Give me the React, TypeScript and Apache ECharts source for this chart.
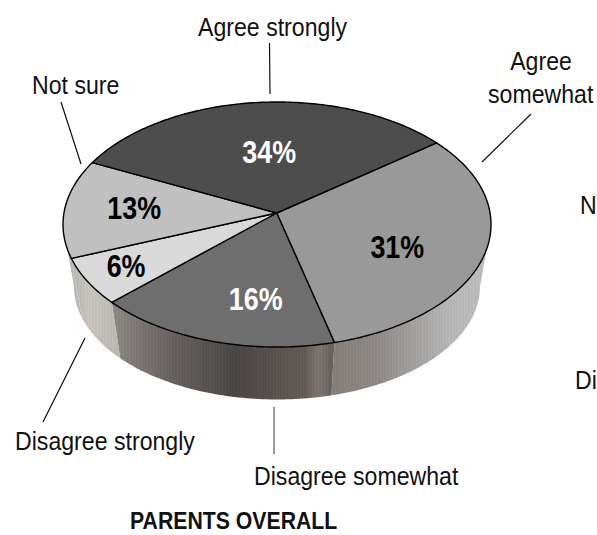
import React, { useEffect, useRef } from "react";
import * as echarts from "echarts";

// ---- data
const categories = ["Agree somewhat", "Disagree somewhat", "Disagree strongly", "Not sure", "Agree strongly"];
const percents = [31, 16, 6, 13, 34];
const titleText = "PARENTS OVERALL";

// ---- styles
const topColors = ["#999999", "#6e6e6e", "#d9d9d9", "#c0c0c0", "#4d4d4d"];
const labelColors = ["#000000", "#ffffff", "#000000", "#000000", "#ffffff"];
const wallStops: [number, string][][] = [
  [[325, "#827c78"], [380, "#8f8a87"], [420, "#a5a3a1"], [450, "#b6b6b6"], [490, "#bbbbbb"]],
  [[113, "#8c8884"], [140, "#7a7572"], [180, "#625d5a"], [210, "#565250"], [235, "#4a4644"], [280, "#5a5350"], [305, "#625a56"], [318, "#7a7571"], [330, "#6a6561"]],
  [[72, "#b8b4b0"], [90, "#c6c2be"], [122, "#b8b4b0"]],
  [[60, "#b5b2b0"], [85, "#bdb9b6"]],
];
// label placement on the disc: radial fraction and angular nudge
const labelRadius = [0.63, 0.7, 0.81, 0.674, 0.487];
const labelNudge = [10, -8, 0, 0, 1.5];

// ---- geometry of the tilted disc
const START_ANGLE = 55;
const PERSPECTIVE = -0.15;
const CX = 277, CY = 224.5, RX = 214, RY = 122.5;
const BCY = 286.5, BRX = 203, BRY = 113;
const HUB: [number, number] = [276.7, 213];
const rad = (d: number) => (d * Math.PI) / 180;

function project(angle: number, r = 1): [number, number] {
  const x = r * Math.sin(rad(angle));
  const y = -r * Math.cos(rad(angle));
  const d = 1 + PERSPECTIVE * y;
  return [(x * Math.sqrt(1 - PERSPECTIVE * PERSPECTIVE)) / d, (y + PERSPECTIVE) / d];
}
const topPoint = (a: number): [number, number] => {
  const [x, y] = project(a);
  return [CX + RX * x, CY + RY * y];
};
const bottomPoint = (a: number): [number, number] => {
  const [x, y] = project(a);
  return [CX + BRX * x, BCY + BRY * y];
};

const total = percents.reduce((s, v) => s + v, 0);
function sliceRange(i: number): [number, number] {
  let acc = 0;
  for (let k = 0; k < i; k++) acc += percents[k];
  return [START_ANGLE + (acc / total) * 360, START_ANGLE + ((acc + percents[i]) / total) * 360];
}
function arc(a0: number, a1: number, fn: (a: number) => [number, number]) {
  const pts: [number, number][] = [];
  const n = Math.max(2, Math.ceil(Math.abs(a1 - a0)));
  for (let k = 0; k <= n; k++) pts.push(fn(a0 + ((a1 - a0) * k) / n));
  return pts;
}

const hex = (c: string) => [1, 3, 5].map((i) => parseInt(c.slice(i, i + 2), 16));
function wallGradient(stops: [number, string][]) {
  const x0 = stops[0][0];
  const x1 = stops[stops.length - 1][0];
  const colorStops: { offset: number; color: string }[] = [];
  let odd = false;
  for (let x = x0; x < x1; x += 1.5) {
    let j = 0;
    while (j < stops.length - 2 && x > stops[j + 1][0]) j++;
    const t = (x - stops[j][0]) / (stops[j + 1][0] - stops[j][0]);
    const a = hex(stops[j][1]);
    const b = hex(stops[j + 1][1]);
    const d = odd ? 4 : -4;
    const c = a.map((v, k) => Math.round(v + (b[k] - v) * Math.min(1, t) + d));
    colorStops.push({ offset: (x - x0) / (x1 - x0), color: `rgb(${c[0]},${c[1]},${c[2]})` });
    odd = !odd;
  }
  return new echarts.graphic.LinearGradient(x0, 0, x1, 0, colorStops, true);
}

const VISIBLE_FROM = 98.63;
const VISIBLE_TO = 261.37;

function renderWall(params: any) {
  const i = params.dataIndex;
  if (i >= wallStops.length) return { type: "group", children: [] };
  const [a0, a1] = sliceRange(i);
  const s = Math.max(a0, VISIBLE_FROM);
  const e = Math.min(a1, VISIBLE_TO);
  const points = [...arc(s, e, topPoint), ...arc(e, s, bottomPoint)];
  return { type: "polygon", shape: { points }, style: { fill: wallGradient(wallStops[i]) }, silent: true };
}

function renderTop(params: any) {
  const i = params.dataIndex;
  const [a0, a1] = sliceRange(i);
  const points = [HUB, ...arc(a0, a1, topPoint)];
  const [lx, ly] = project((a0 + a1) / 2 + labelNudge[i], labelRadius[i]);
  return {
    type: "group",
    silent: true,
    children: [
      {
        type: "polygon",
        shape: { points },
        style: { fill: topColors[i], stroke: "#000000", lineWidth: 1.4, lineJoin: "round" },
      },
      {
        type: "text",
        z2: 10,
        x: CX + RX * lx,
        y: CY + RY * ly,
        scaleX: 0.84,
        style: {
          text: `${percents[i]}%`,
          x: 0,
          y: 0,
          fill: labelColors[i],
          font: 'bold 32px "Liberation Sans", sans-serif',
          align: "center",
          verticalAlign: "middle",
        },
      },
    ],
  };
}

const LABEL_FONT = '25px "Liberation Sans", Arial, sans-serif';
const outerText = (text: string, x: number, y: number, align = "left") => ({
  type: "text",
  silent: true,
  x,
  y,
  scaleX: 0.925,
  style: { text, x: 0, y: 0, fill: "#111111", font: LABEL_FONT, align, verticalAlign: "bottom" },
});
const leader = (x1: number, y1: number, x2: number, y2: number, stroke = "#111111") => ({
  type: "line",
  silent: true,
  shape: { x1, y1, x2, y2 },
  style: { stroke, lineWidth: 1.2 },
});

export default function App() {
  const ref = useRef<HTMLDivElement>(null);
  useEffect(() => {
    document.body.style.margin = "0";
    const chart = echarts.init(ref.current!, undefined, { renderer: "svg" });
    chart.setOption({
      animation: false,
      backgroundColor: "#ffffff",
      series: [
        {
          type: "custom",
          coordinateSystem: "none",
          renderItem: (params: any) => renderWall(params),
          data: percents,
          z: 1,
          silent: true,
        },
        {
          type: "custom",
          coordinateSystem: "none",
          renderItem: (params: any) => renderTop(params),
          data: percents,
          z: 2,
          silent: true,
        },
      ],
      graphic: [
        outerText(categories[4], 198, 40),
        outerText(categories[3], 32, 98),
        outerText("Agree", 541, 74, "center"),
        outerText("somewhat", 488, 107),
        outerText(categories[2], 15, 454),
        outerText(categories[1], 254, 489),
        outerText("N", 580, 218),
        outerText("Di", 575, 393),
        leader(269.5, 43, 270, 94),
        leader(61, 102, 81, 164),
        leader(531, 114, 482, 162),
        leader(85, 338, 43, 422),
        leader(274, 407, 274, 454, "#555555"),
        {
          type: "text",
          silent: true,
          x: 130,
          y: 531,
          scaleX: 0.885,
          style: {
            text: titleText,
            x: 0,
            y: 0,
            fill: "#111111",
            font: 'bold 24px "Liberation Sans", sans-serif',
            lineHeight: 20,
            align: "left",
            verticalAlign: "bottom",
          },
        },
      ],
    });
    return () => chart.dispose();
  }, []);
  return <div ref={ref} style={{ width: 597, height: 535, overflow: "hidden" }} />;
}
